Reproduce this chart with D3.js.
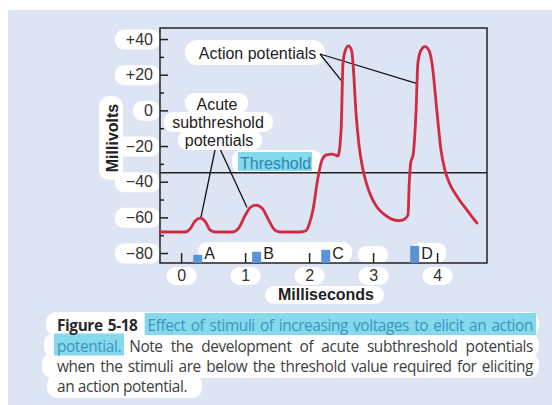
<!DOCTYPE html>
<html><head><meta charset="utf-8">
<script src="https://cdn.jsdelivr.net/npm/d3@7"></script>
<style>html,body{margin:0;padding:0;background:#fff}svg{display:block}</style>
</head><body>
<svg id="chart" width="552" height="405"></svg>
<script>
// ---------------- DATA ----------------
const timeMs = [-0.33, 0.06, 0.14, 0.22, 0.30, 0.38, 0.45, 0.53,
  0.80, 0.90, 1.00, 1.08, 1.17, 1.27, 1.36, 1.46, 1.55,
  1.86, 1.95, 2.00, 2.06, 2.14, 2.20, 2.27, 2.36, 2.45, 2.50, 2.53, 2.565, 2.615, 2.665, 2.686,
  2.733, 2.78, 2.827, 2.89, 2.967, 3.06, 3.17, 3.29, 3.40, 3.49, 3.545,
  3.565, 3.59, 3.625, 3.67, 3.70, 3.745, 3.81, 3.875, 3.92,
  4.00, 4.061, 4.123, 4.20, 4.31, 4.467, 4.623];
const millivolts = [-68.2, -68.2, -66.5, -62, -60.4, -62.5, -67, -68.2,
  -68.2, -66, -59, -54.5, -53.1, -55, -61, -67, -68.2,
  -68.2, -67.5, -64, -55.9, -37.4, -28, -25, -24.5, -25.6, -11, 26.5, 33.5, 36.2, 33.5, 26.5,
  -1.5, -19.5, -30.7, -40.2, -48.1, -54.2, -58.2, -61, -61.8, -61, -58.7,
  -40.8, -29, -25, -1.5, 26.5, 33.5, 35.8, 33.5, 26.5,
  -1.5, -22.3, -33.5, -41.4, -48.1, -55.9, -63.2];
const yTicks = [40, 20, 0, -20, -40, -60, -80];
const yTickLabels = ["+40", "+20", "0", "\u221220", "\u221240", "\u221260", "\u221280"];
const yMinorTicks = [30, 10, -10, -30, -50, -70];
const xTicks = [0, 1, 2, 3, 4];
const xTickLabels = ["0", "1", "2", "3", "4"];
const thresholdMv = -35;
const stimulusNames = ["A", "B", "C", "D"];
const stimulusTimes = [0.26, 1.18, 2.26, 3.65];
const stimulusStrength = [4.6, 6.3, 7.4, 9.6];
const actionPotentialTargets = [[2.52, 16], [3.69, 15]];
const subthresholdTargets = [[0.31, -60], [1.03, -54.5]];
const captionLines = [
  {bold: "Figure 5-18", hl: "Effect of stimuli of increasing voltages to elicit an action", rest: ""},
  {bold: "", hl: "potential.", rest: "Note the development of acute subthreshold potentials"},
  {bold: "", hl: "", rest: "when the stimuli are below the threshold value required for eliciting"},
  {bold: "", hl: "", rest: "an action potential."}
];

// ---------------- SETUP ----------------
const W = 552, H = 405;
const LF = "'Liberation Sans', Arial, Helvetica, sans-serif";
const CF = "'Open Sans', 'Noto Sans', sans-serif";
const BG = "#dde4f4";
const INK = "#222";
const svg = d3.select("#chart");

svg.append("rect").attr("x", 0).attr("y", 0).attr("width", W).attr("height", H).attr("fill", "#fff");
svg.append("rect").attr("x", 8).attr("y", 10).attr("width", W - 8).attr("height", H - 10).attr("fill", BG);

const x = d3.scaleLinear().domain([-0.33, 4.78]).range([160, 487]);
const y = d3.scaleLinear().domain([-85.6, 46.2]).range([263, 28]);

function box(x0, y0, x1, y1, r) {
  return svg.append("rect").attr("x", x0).attr("y", y0).attr("width", x1 - x0).attr("height", y1 - y0)
    .attr("rx", r || 9).attr("fill", "#fff");
}

// label backgrounds (white rounded boxes)
box(185, 40, 325, 65, 12);
box(185, 93, 248, 113, 9);
box(164, 112, 273, 132, 9);
box(178, 130, 262, 150, 9);
box(99, 96, 123, 180, 10);
box(265, 286, 384, 304, 9);
box(232, 150, 322, 173, 9);
box(198, 242, 352, 263, 9);
box(358, 246, 388, 263, 8);
box(411, 243, 446, 263, 8);

// ---------------- AXES ----------------
const yLab = new Map(yTicks.map((v, i) => [v, yTickLabels[i]]));
const gy = svg.append("g").attr("transform", "translate(160,0)")
  .call(d3.axisLeft(y).tickValues(yTicks).tickSize(-8).tickPadding(7).tickFormat(d => yLab.get(d)));
gy.select(".domain").remove();
gy.selectAll(".tick line").attr("stroke", INK).attr("stroke-width", 1.5);
gy.selectAll(".tick text").attr("font-family", LF).attr("font-size", 16).attr("fill", "#333");
gy.selectAll(".tick").each(function () {
  const t = d3.select(this).select("text");
  const bb = t.node().getBBox();
  d3.select(this).insert("rect", "text").attr("x", bb.x - 11).attr("y", -10).attr("width", -bb.x + 11).attr("height", 20)
    .attr("rx", 9).attr("fill", "#fff");
});
const gym = svg.append("g").attr("transform", "translate(160,0)")
  .call(d3.axisLeft(y).tickValues(yMinorTicks).tickSize(-4).tickFormat(""));
gym.select(".domain").remove();
gym.selectAll(".tick line").attr("stroke", INK).attr("stroke-width", 1.5);

const xLab = new Map(xTicks.map((v, i) => [v, xTickLabels[i]]));
const gx = svg.append("g").attr("transform", "translate(0,263)")
  .call(d3.axisBottom(x).tickValues(xTicks).tickSize(-10).tickPadding(7).tickFormat(d => xLab.get(d)));
gx.select(".domain").remove();
gx.selectAll(".tick line").attr("stroke", INK).attr("stroke-width", 1.5);
gx.selectAll(".tick text").attr("font-family", LF).attr("font-size", 16).attr("fill", "#333");
gx.selectAll(".tick").insert("rect", "text").attr("x", -15).attr("y", 4).attr("width", 30).attr("height", 18)
  .attr("rx", 9).attr("fill", "#fff");

// frame
svg.append("rect").attr("x", x.range()[0]).attr("y", y.range()[1])
  .attr("width", x.range()[1] - x.range()[0]).attr("height", y.range()[0] - y.range()[1])
  .attr("fill", "none").attr("stroke", INK).attr("stroke-width", 1.5);

// axis titles
svg.append("text").attr("transform", "translate(118,138) rotate(-90)").attr("text-anchor", "middle")
  .attr("font-family", LF).attr("font-weight", "bold").attr("font-size", 16).attr("fill", INK).text("Millivolts");
svg.append("text").attr("x", 326).attr("y", 300).attr("text-anchor", "middle")
  .attr("font-family", LF).attr("font-weight", "bold").attr("font-size", 16).attr("fill", INK).text("Milliseconds");

// threshold
svg.append("rect").attr("x", 238).attr("y", 152).attr("width", 74).attr("height", 19).attr("fill", "#86d8ec");
svg.append("text").attr("x", 240).attr("y", 168.5).attr("font-family", LF).attr("font-size", 16)
  .attr("fill", "#2a86b3").text("Threshold");
svg.append("line").attr("x1", x.range()[0]).attr("x2", x.range()[1]).attr("y1", y(thresholdMv)).attr("y2", y(thresholdMv))
  .attr("stroke", INK).attr("stroke-width", 1.5);

// stimulus bars
const yMin = y.domain()[0];
svg.selectAll("rect.stim").data(stimulusTimes).join("rect").attr("class", "stim")
  .attr("x", d => x(d) - 4.5).attr("width", 9)
  .attr("y", (d, i) => y(yMin + stimulusStrength[i])).attr("height", (d, i) => y(yMin) - y(yMin + stimulusStrength[i]))
  .attr("fill", "#5a94d8");
svg.selectAll("text.stim").data(stimulusTimes).join("text").attr("class", "stim")
  .attr("x", d => x(d) + 6.5).attr("y", 259).attr("font-family", LF).attr("font-size", 16).attr("fill", INK)
  .text((d, i) => stimulusNames[i]);

// annotation lines
const ann = svg.append("g").attr("stroke", "#111").attr("stroke-width", 1.3);
actionPotentialTargets.forEach(p => ann.append("line").attr("x1", 320).attr("y1", 54).attr("x2", x(p[0])).attr("y2", y(p[1])));
ann.append("line").attr("x1", 215).attr("y1", 150).attr("x2", x(subthresholdTargets[0][0])).attr("y2", y(subthresholdTargets[0][1]));
ann.append("line").attr("x1", 220.5).attr("y1", 150).attr("x2", x(subthresholdTargets[1][0])).attr("y2", y(subthresholdTargets[1][1]));

// membrane potential trace
const line = d3.line().x((d, i) => x(timeMs[i])).y(d => y(d)).curve(d3.curveMonotoneX);
svg.append("path").attr("d", line(millivolts)).attr("fill", "none").attr("stroke", "#d22a40")
  .attr("stroke-width", 2.8).attr("stroke-linejoin", "round").attr("stroke-linecap", "round");

// annotation labels
const lab = (t, cx, by) => svg.append("text").attr("x", cx).attr("y", by).attr("text-anchor", "middle")
  .attr("font-family", LF).attr("font-size", 16).attr("fill", INK).text(t);
lab("Action potentials", 257.5, 58.5);
lab("Acute", 217, 109.5);
lab("subthreshold", 218, 128);
lab("potentials", 219, 145.5);

// ---------------- CAPTION ----------------
const CFS = 15.4, LS = -0.4;
const meas = svg.append("text").attr("font-family", CF).attr("font-size", CFS).attr("letter-spacing", LS).attr("opacity", 0);
function mw(t, b) { meas.attr("font-weight", b ? "bold" : "normal").text(t); return meas.node().getComputedTextLength(); }
const spaceW = mw("a a") - mw("aa");
const X0 = 57, X1 = 533;
const baselines = [331, 351.5, 372, 392];
const layouts = captionLines.map((L, li) => {
  const words = [];
  if (L.bold) L.bold.split(" ").forEach(w => words.push({t: w, s: "b"}));
  if (L.hl) L.hl.split(" ").forEach(w => words.push({t: w, s: "h"}));
  if (L.rest) L.rest.split(" ").forEach(w => words.push({t: w, s: "n"}));
  words.forEach(w => w.w = mw(w.t, w.s === "b"));
  const justify = li < captionLines.length - 1;
  const extraIdx = L.bold ? L.bold.split(" ").length - 1 : -1;
  const extra = extraIdx >= 0 ? 5 : 0;
  const total = d3.sum(words, w => w.w);
  const gap = justify ? (X1 - X0 - total - extra) / (words.length - 1) : spaceW;
  let cx = X0;
  words.forEach((w, i) => { w.x = cx; cx += w.w + gap + (i === extraIdx ? extra : 0); });
  return {words, end: cx - gap, by: baselines[li]};
});
meas.remove();
// caption boxes
const capBox = [[46, 312, 539, 336], [44, 333, 539, 357], [42, 353, 539, 378]];
capBox.forEach(b => box(b[0], b[1], b[2], b[3], 10));
box(47, 374, layouts[3].end + 15, 398, 10);
// highlights
layouts.forEach(Lt => {
  const hw = Lt.words.filter(w => w.s === "h");
  if (!hw.length) return;
  const a = hw[0].x - 3, b = hw[hw.length - 1].x + hw[hw.length - 1].w + 3;
  svg.append("rect").attr("x", Math.max(a, 51)).attr("y", Lt.by - 18).attr("width", b - Math.max(a, 51)).attr("height", 22)
    .attr("fill", "#86d8ec");
});
layouts.forEach(Lt => {
  svg.append("g").selectAll("text").data(Lt.words).join("text")
    .attr("x", w => w.x).attr("y", Lt.by).attr("font-family", CF).attr("font-size", CFS).attr("letter-spacing", LS)
    .attr("font-weight", w => w.s === "b" ? "bold" : "normal")
    .attr("fill", w => w.s === "h" ? "#3d95bd" : (w.s === "b" ? "#2a2a2a" : "#404040"))
    .text(w => w.t);
});
</script>
</body></html>
